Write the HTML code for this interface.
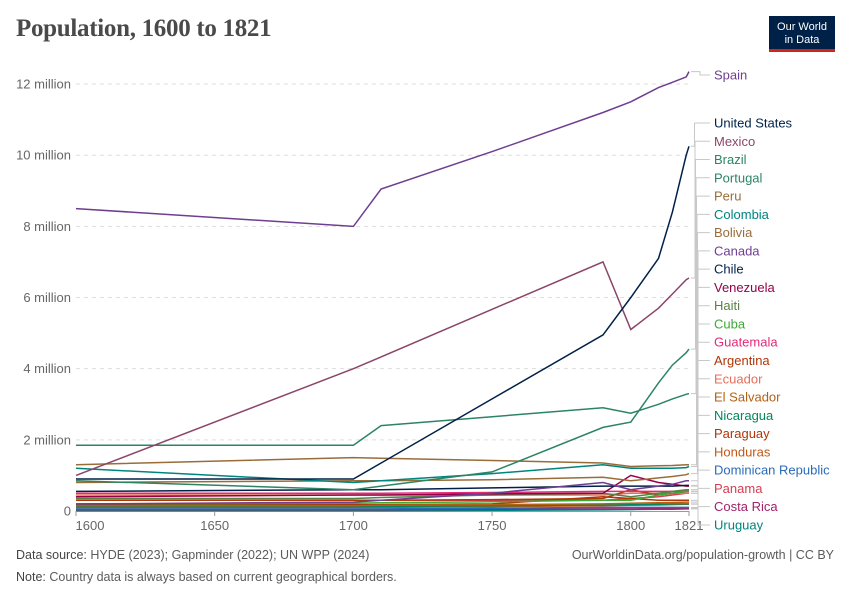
<!DOCTYPE html>
<html><head><meta charset="utf-8">
<style>
body{margin:0;background:#fff;font-family:"Liberation Sans",sans-serif;}
#wrap{position:relative;width:850px;height:600px;overflow:hidden;}
h1{position:absolute;left:16px;top:15px;margin:0;font-family:"Liberation Serif",serif;font-size:25px;font-weight:bold;color:#4a4a4a;letter-spacing:-0.3px}
#logo{position:absolute;left:769px;top:16px;width:66px;height:36px;background:#002147;color:#fff;font-size:11px;line-height:13px;text-align:center;padding-top:5px;box-sizing:border-box;border-bottom:3px solid #ce261e}
.foot{position:absolute;font-size:12.5px;color:#5b5b5b}
.foot b{font-weight:normal;color:#444}
</style></head><body>
<div id="wrap">
<h1>Population, 1600 to 1821</h1>
<div id="logo">Our World<br>in Data</div>
<svg id="chart" width="850" height="600" style="position:absolute;left:0;top:0"></svg>
<div class="foot" style="left:16px;top:548px"><b>Data source:</b> HYDE (2023); Gapminder (2022); UN WPP (2024)</div>
<div class="foot" style="left:16px;top:570px"><b>Note:</b> Country data is always based on current geographical borders.</div>
<div class="foot" style="right:16px;top:548px">OurWorldinData.org/population-growth | CC BY</div>
</div>
<script>
const years=[1600,1700,1710,1750,1790,1800,1810,1815,1820,1821];
const names=["Spain","United States","Mexico","Brazil","Portugal","Peru","Colombia","Bolivia","Canada","Chile","Venezuela","Haiti","Cuba","Guatemala","Argentina","Ecuador","El Salvador","Nicaragua","Paraguay","Honduras","Dominican Republic","Panama","Costa Rica","Uruguay"];
const realColors=["#6d3e91","#002147","#8c4569","#2c8465","#2c8465","#996d39","#00847e","#996d39","#6d3e91","#002147","#970046","#578145","#3aaa35","#e6287a","#b13507","#e56e5a","#b16214","#00875e","#b13507","#c05917","#286bbb","#d73c50","#a2226b","#00847e"];
const s_spain=[8.5,8.0,9.05,10.1,11.2,11.5,11.9,12.05,12.2,12.35];
const s_us=[0.9,0.9,1.35,3.15,4.95,6.0,7.1,8.4,10.0,10.25];
const s_mexico=[1.0,4.0,4.33,5.67,7.0,5.1,5.7,6.1,6.5,6.55];
const s_brazil=[0.85,0.6,0.7,1.1,2.35,2.5,3.6,4.1,4.45,4.55];
const s_portugal=[1.85,1.85,2.4,2.65,2.9,2.75,3.0,3.15,3.28,3.3];
const s_peru=[1.3,1.5,1.48,1.42,1.35,1.25,1.27,1.28,1.3,1.3];
const s_colombia=[1.2,0.8,0.85,1.05,1.3,1.2,1.2,1.2,1.22,1.25];
const s_bolivia=[0.8,0.85,0.85,0.88,0.95,0.85,0.93,0.97,1.02,1.05];
const s_canada=[0.2,0.25,0.3,0.5,0.8,0.6,0.7,0.75,0.85,0.85];
const s_chile=[0.55,0.6,0.6,0.65,0.7,0.7,0.7,0.7,0.72,0.72];
const s_venezuela=[0.4,0.45,0.45,0.48,0.5,1.0,0.8,0.75,0.7,0.7];
const s_haiti=[0.35,0.35,0.38,0.45,0.5,0.4,0.5,0.55,0.6,0.6];
const s_cuba=[0.2,0.22,0.23,0.26,0.3,0.3,0.45,0.5,0.55,0.55];
const s_guatemala=[0.5,0.5,0.5,0.52,0.55,0.55,0.55,0.55,0.55,0.55];
const s_argentina=[0.3,0.3,0.3,0.32,0.35,0.6,0.45,0.5,0.55,0.55];
const s_ecuador=[0.45,0.45,0.45,0.45,0.45,0.5,0.5,0.5,0.5,0.5];
const s_elsalvador=[0.15,0.15,0.16,0.18,0.2,0.22,0.23,0.24,0.25,0.25];
const s_nicaragua=[0.12,0.12,0.13,0.15,0.17,0.18,0.19,0.2,0.2,0.2];
const s_paraguay=[0.18,0.18,0.18,0.2,0.4,0.35,0.3,0.3,0.3,0.3];
const s_honduras=[0.1,0.1,0.1,0.12,0.15,0.16,0.17,0.18,0.19,0.19];
const s_dr=[0.06,0.06,0.06,0.08,0.1,0.1,0.1,0.1,0.1,0.1];
const s_panama=[0.3,0.3,0.3,0.3,0.3,0.35,0.4,0.45,0.5,0.5];
const s_costarica=[0.04,0.04,0.04,0.05,0.06,0.06,0.07,0.07,0.07,0.07];
const s_uruguay=[0.01,0.01,0.01,0.02,0.03,0.04,0.05,0.05,0.06,0.06];
const series=[s_spain,s_us,s_mexico,s_brazil,s_portugal,s_peru,s_colombia,s_bolivia,s_canada,s_chile,s_venezuela,s_haiti,s_cuba,s_guatemala,s_argentina,s_ecuador,s_elsalvador,s_nicaragua,s_paraguay,s_honduras,s_dr,s_panama,s_costarica,s_uruguay];
const yTicks=[0,2,4,6,8,10,12];
const yTickLabels=["0","2 million","4 million","6 million","8 million","10 million","12 million"];
const xTicks=[1600,1650,1700,1750,1800,1821];
const NS="http://www.w3.org/2000/svg";
const svg=document.getElementById('chart');
const X=y=>76+(y-1600)*(613/221);
const Y=v=>511-v*35.58;
function mk(t,a){const e=document.createElementNS(NS,t);for(const k in a)e.setAttribute(k,a[k]);svg.appendChild(e);return e;}
yTicks.forEach((t,i)=>{
 if(t>0){const g=mk('line',{x1:76,x2:689,y1:Y(t),y2:Y(t),stroke:'#ddd','stroke-dasharray':'4,4'});
 
 }
 const tx=mk('text',{x:71,y:Y(t)+4.5,'text-anchor':'end','font-size':13,fill:'#666'});tx.textContent=yTickLabels[i];
 
 
});
const ax=mk('line',{x1:76,x2:689,y1:511.5,y2:511.5,stroke:'#999'});


xTicks.forEach(t=>{
 mk('line',{x1:X(t),x2:X(t),y1:511,y2:516,stroke:'#999'});
 const tx=mk('text',{x:X(t)+(t==1600?14:0),y:530,'text-anchor':'middle','font-size':13,fill:'#666'});tx.textContent=t;
 
 
});
for(let i=series.length-1;i>=0;i--){
 const d=series[i].map((v,j)=>(j?'L':'M')+X(years[j]).toFixed(1)+','+Y(v).toFixed(1)).join('');
 const p=mk('path',{d:d,fill:'none',stroke:realColors[i],'stroke-width':1.5});
 
 
}
names.forEach((n,i)=>{
 const ly=i==0?75:123+(i-1)*18.27;
 const endY=Y(series[i][years.length-1]);
 const bx=i==0?700:694+Math.min(i,8)*0.5;
 mk('path',{d:`M691,${endY}L${bx},${endY}L${bx},${ly}L710,${ly}`,fill:'none',stroke:'#c8c8c8','stroke-width':1});
 const tx=mk('text',{x:714,y:ly+4.5,'font-size':13,fill:realColors[i]});tx.textContent=n;
 
 
});
</script>
</body></html>
